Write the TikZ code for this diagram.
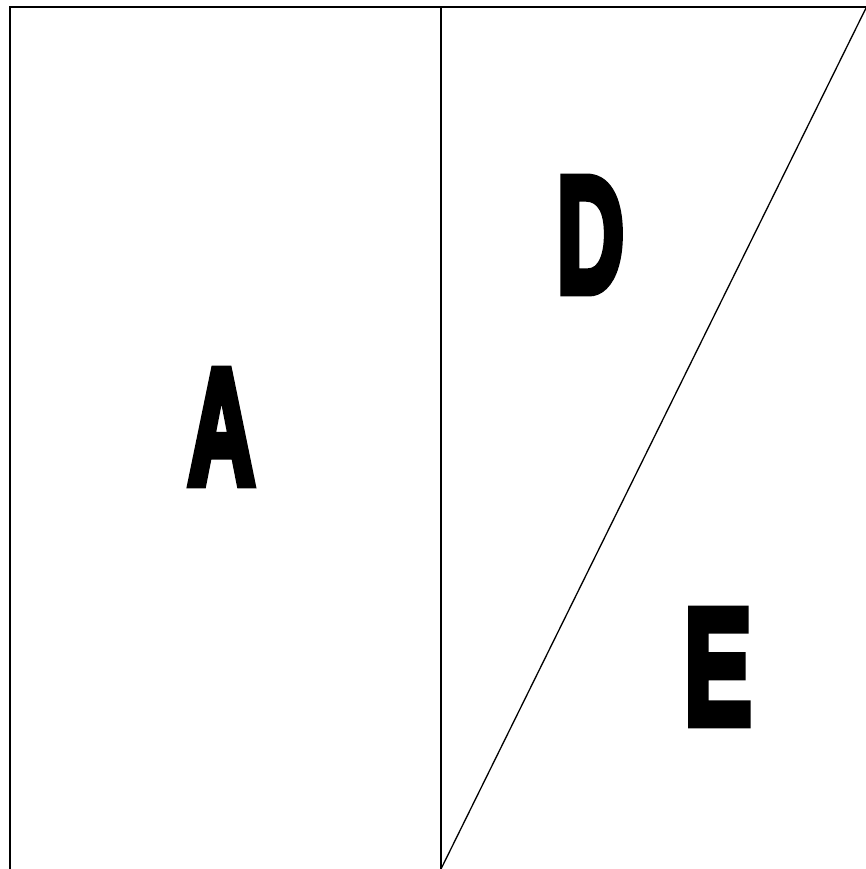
\documentclass[tikz,border=0pt]{standalone}
\usepackage{fontspec}
\newfontfamily\heavyfont[FakeBold=6]{Liberation Sans Bold}
\newcommand{\bigletter}[1]{\resizebox{67pt}{113pt}{\heavyfont #1}}
\begin{document}
\begin{tikzpicture}[x=1pt,y=-1pt]
            \useasboundingbox (0,0) rectangle (866,869);
            \coordinate (tl) at (10,7);
            \coordinate (tr) at (866,7);
            \coordinate (bl) at (10,869);
            \coordinate (mt) at (441,7);
            \coordinate (mb) at (441,869);
            \coordinate (dt) at (866,8);
            \draw[line width=2pt] (bl) -- (tl) -- (tr);
            \draw[line width=1.6pt] (mt) -- (mb);
            \draw[line width=1.3pt] (mb) -- (dt);
            \node[inner sep=0pt] (a) at (221.5,427) {\bigletter{A}};
            \node[inner sep=0pt] (d) at (590.5,235) {\bigletter{D}};
            \node[inner sep=0pt] (e) at (718,667) {\bigletter{E}};
        \end{tikzpicture}
\end{document}
